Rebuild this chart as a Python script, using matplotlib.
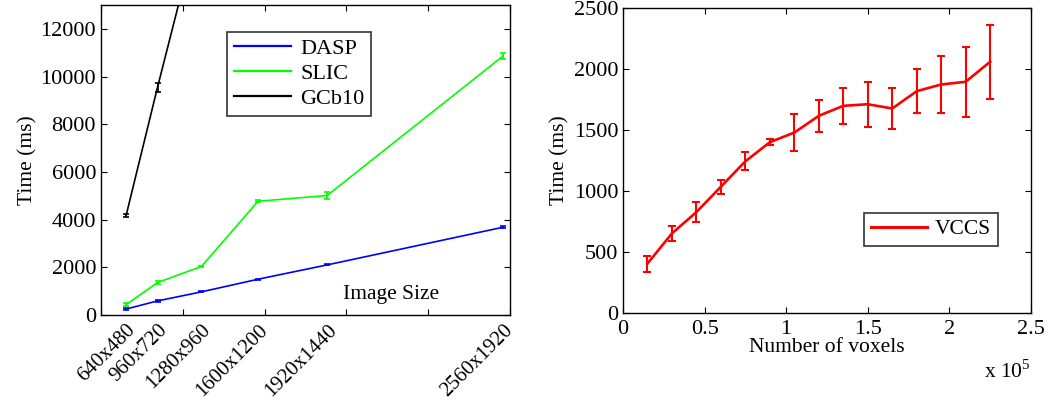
import matplotlib
matplotlib.use("Agg")
import matplotlib.pyplot as plt
from matplotlib.lines import Line2D

plt.rcParams['font.family'] = ['Liberation Serif', 'DejaVu Serif']
plt.rcParams['mathtext.fontset'] = 'custom'
plt.rcParams['mathtext.rm'] = 'Liberation Serif'

# ---- left chart data ----
size_labels = ["640x480", "960x720", "1280x960", "1600x1200", "1920x1440", "2560x1920"]
pixel_counts = [640*480, 960*720, 1280*960, 1600*1200, 1920*1440, 2560*1920]
dasp_time = [250, 590, 970, 1500, 2100, 3680]
dasp_err = [30, 40, 20, 20, 20, 40]
slic_time = [430, 1360, 2035, 4770, 5010, 10860]
slic_err = [60, 80, 40, 40, 150, 120]
gcb_sizes = pixel_counts[:3]
gcb_time = [4170, 9550, 16800]
gcb_err = [50, 200, 200]

# ---- right chart data ----
voxels = [0.15e5, 0.30e5, 0.45e5, 0.60e5, 0.75e5, 0.90e5, 1.05e5, 1.20e5,
          1.35e5, 1.50e5, 1.65e5, 1.80e5, 1.95e5, 2.10e5, 2.25e5]
vccs_time = [405, 652, 827, 1035, 1243, 1400, 1479, 1616,
             1698, 1711, 1676, 1818, 1873, 1895, 2059]
vccs_err = [65, 65, 80, 57, 75, 22, 148, 132,
            150, 186, 172, 178, 233, 288, 305]

fig = plt.figure(figsize=(10.55, 4.01), dpi=100)

FS = 15.5
TFS = 16

# ---------- left ----------
ax1 = fig.add_axes([0.0957, 0.2145, 0.3877, 0.773])
lw = 1.2
series = [(dasp_time, dasp_err, pixel_counts, (0, 0, 1), "DASP"),
          (slic_time, slic_err, pixel_counts, (0, 1, 0), "SLIC"),
          (gcb_time, gcb_err, gcb_sizes, (0, 0, 0), "GCb10")]
handles = []
for t, e, xs, c, lab in series:
    ax1.errorbar(xs, t, yerr=e, color=c, lw=lw, capsize=2.2,
                 elinewidth=lw, capthick=lw)
    handles.append(Line2D([], [], color=c, lw=1.6, label=lab))
ax1.set_xlim(0, 5e6)
ax1.set_ylim(0, 13000)
ax1.set_xticks([0, 1e6, 2e6, 3e6, 4e6, 5e6])
ax1.set_xticklabels([])
ax1.set_yticks(range(0, 13000, 2000))
ax1.tick_params(direction='in', length=4, top=True, right=True, labelsize=TFS, width=0.8)
ax1.set_ylabel("Time (ms)", fontsize=FS, labelpad=2)
for x, lab in zip(pixel_counts, size_labels):
    ax1.text(x, -0.018, lab, transform=ax1.get_xaxis_transform(), rotation=45,
             rotation_mode='anchor', ha='right', va='top', fontsize=15)
ax1.text(2.96e6, 840, "Image Size", fontsize=FS, va='center', ha='left')
leg1 = ax1.legend(handles=handles, loc='upper left', bbox_to_anchor=(0.308, 0.913),
                  fontsize=FS + 0.5, frameon=True, fancybox=False, handlelength=2.6,
                  handletextpad=0.4, borderpad=0.3, labelspacing=0.2, borderaxespad=0)
leg1.get_frame().set_edgecolor('black')
leg1.get_frame().set_linewidth(1.2)
for s in ax1.spines.values():
    s.set_linewidth(1.0)

# ---------- right ----------
ax2 = fig.add_axes([0.5905, 0.2195, 0.3867, 0.7606])
ax2.errorbar(voxels, vccs_time, yerr=vccs_err, color=(1, 0, 0), lw=1.9,
             capsize=2.6, elinewidth=1.5, capthick=1.5)
ax2.set_xlim(0, 2.5e5)
ax2.set_ylim(0, 2500)
ax2.set_xticks([0, 0.5e5, 1e5, 1.5e5, 2e5, 2.5e5])
ax2.set_xticklabels(["0", "0.5", "1", "1.5", "2", "2.5"])
ax2.set_yticks(range(0, 2501, 500))
ax2.tick_params(direction='in', length=4, top=True, right=True, labelsize=TFS, width=0.8)
ax2.tick_params(axis='x', pad=5)
ax2.set_ylabel("Time (ms)", fontsize=FS, labelpad=3)
ax2.set_xlabel("Number of voxels", fontsize=FS, labelpad=-1)
ax2.text(1.0, -0.155, r"x 10$^{\mathrm{5}}$", transform=ax2.transAxes, ha='right',
         va='top', fontsize=FS)
leg2 = ax2.legend(handles=[Line2D([], [], color=(1, 0, 0), lw=2.2, label="VCCS")],
                  loc='upper left', bbox_to_anchor=(0.591, 0.328), fontsize=FS,
                  frameon=True, fancybox=False, handlelength=2.6, handletextpad=0.4,
                  borderpad=0.3, borderaxespad=0)
leg2.get_frame().set_edgecolor('black')
leg2.get_frame().set_linewidth(1.2)
for s in ax2.spines.values():
    s.set_linewidth(1.0)

fig.savefig("out.png", dpi=100)
